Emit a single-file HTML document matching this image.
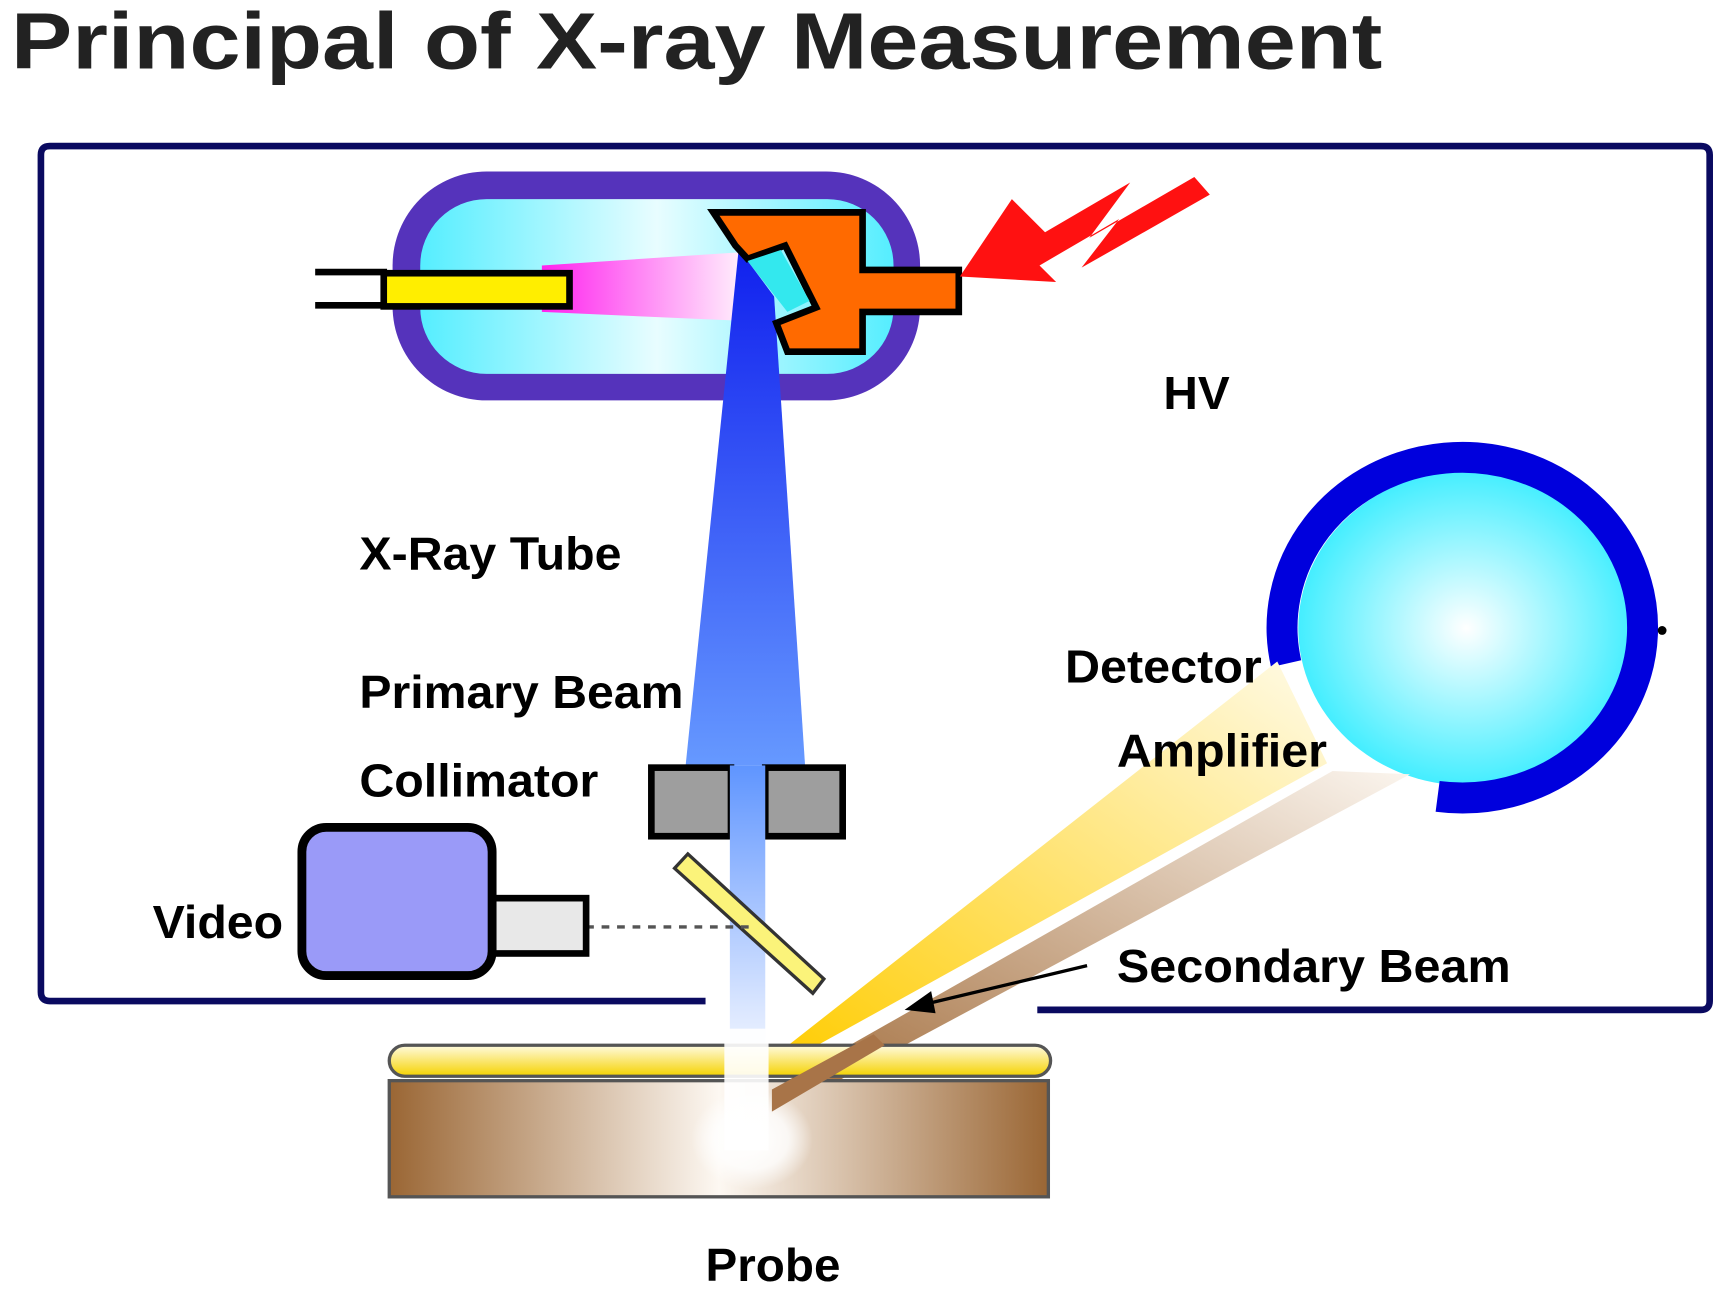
<!DOCTYPE html>
<html><head><meta charset="utf-8"><style>
html,body{margin:0;padding:0;background:#fff;}
svg{display:block}
text{font-family:"Liberation Sans",Arial,sans-serif;font-weight:bold;}
</style></head><body>
<svg width="1734" height="1303" viewBox="0 0 1568 1178" preserveAspectRatio="none" xmlns="http://www.w3.org/2000/svg">
<defs>
<linearGradient id="cyan" x1="0" y1="0" x2="1" y2="0">
<stop offset="0" stop-color="#55eeff"/><stop offset="0.5" stop-color="#e8fdff"/><stop offset="1" stop-color="#55eeff"/></linearGradient>
<linearGradient id="pink" x1="0" y1="0" x2="1" y2="0">
<stop offset="0" stop-color="#ff22ee"/><stop offset="1" stop-color="#ffeefc"/></linearGradient>
<linearGradient id="blue" x1="0" y1="0" x2="0" y2="1">
<stop offset="0" stop-color="#1020ee"/><stop offset="1" stop-color="#6699ff"/></linearGradient>
<linearGradient id="blue2" x1="0" y1="0" x2="0" y2="1">
<stop offset="0" stop-color="#5f95ff"/><stop offset="0.75" stop-color="#dde8ff"/><stop offset="1" stop-color="#fff"/></linearGradient>
<radialGradient id="det" cx="0.5" cy="0.5" r="0.5">
<stop offset="0" stop-color="#ffffff"/><stop offset="1" stop-color="#44eeff"/></radialGradient>
<linearGradient id="yb" x1="0" y1="1" x2="1" y2="0">
<stop offset="0" stop-color="#ffcc00"/><stop offset="1" stop-color="#fffbe8"/></linearGradient>
<linearGradient id="bb" x1="0" y1="1" x2="1" y2="0">
<stop offset="0" stop-color="#a06a38"/><stop offset="1" stop-color="#fbf5ee"/></linearGradient>
<linearGradient id="brown" x1="0" y1="0" x2="1" y2="0">
<stop offset="0" stop-color="#9a6634"/><stop offset="0.5" stop-color="#fdf8f2"/><stop offset="1" stop-color="#9a6634"/></linearGradient>
<linearGradient id="ypill" x1="0" y1="0" x2="0" y2="1">
<stop offset="0" stop-color="#fffbe0"/><stop offset="1" stop-color="#f5d200"/></linearGradient>
<radialGradient id="glow" cx="0.5" cy="0.5" r="0.5">
<stop offset="0" stop-color="#fff"/><stop offset="0.6" stop-color="#fff" stop-opacity="0.8"/><stop offset="1" stop-color="#fff" stop-opacity="0"/></radialGradient>
</defs>

<text x="10" y="62" font-size="72" fill="#222" textLength="1240" lengthAdjust="spacingAndGlyphs">Principal of X-ray Measurement</text>

<path d="M638 905 L45 905 Q37 905 37 897 L37 140 Q37 132 45 132 L1538 132 Q1546 132 1546 140 L1546 905 Q1546 913 1538 913 L938 913" fill="none" stroke="#0a0a60" stroke-width="6"/>

<rect x="355" y="155" width="477" height="207" rx="85" fill="#5533bb"/>
<rect x="380" y="180" width="428" height="158" rx="60" fill="url(#cyan)"/>
<line x1="285" y1="246" x2="350" y2="246" stroke="#000" stroke-width="6"/>
<line x1="285" y1="276" x2="350" y2="276" stroke="#000" stroke-width="6"/>
<polygon points="490,240 670,228 670,290 490,282" fill="url(#pink)"/>
<rect x="347" y="247" width="168" height="30" fill="#ffee00" stroke="#000" stroke-width="6"/>
<polygon points="668,225 700,268 728,692 620,692" fill="url(#blue)"/>
<polygon points="645,192 780,192 780,244 867,244 867,282 780,282 780,318 712,318 702,292 738,278 710,222 676,234 665,222" fill="#ff6a00" stroke="#000" stroke-width="6" stroke-linejoin="miter"/>
<polygon points="676,236 706,226 732,272 712,282" fill="#33e8ee"/>
<polygon points="1094,176 1080,160 985,215 1022,165 945,210 915,180 868,250 955,255 940,240 1012,198 978,242" fill="#ff1111"/>

<rect x="589" y="694" width="72" height="62" fill="#9e9e9e" stroke="#000" stroke-width="6"/>
<rect x="692" y="694" width="70" height="62" fill="#9e9e9e" stroke="#000" stroke-width="6"/>
<rect x="660" y="692" width="32" height="300" fill="url(#blue2)"/>
<polygon points="610,785 622,772 745,885 735,898" fill="#fbf37a" stroke="#333" stroke-width="3"/>
<line x1="530" y1="838" x2="680" y2="838" stroke="#555" stroke-width="3" stroke-dasharray="7,7"/>
<rect x="273" y="748" width="172" height="134" rx="22" fill="#9a9af8" stroke="#000" stroke-width="8"/>
<rect x="446" y="812" width="84" height="50" fill="#e8e8e8" stroke="#000" stroke-width="6"/>

<ellipse cx="1326" cy="568" rx="152" ry="142" fill="url(#det)"/>
<path d="M1163 600 A163 154 0 1 1 1300 720" fill="none" stroke="#0000dd" stroke-width="28"/>
<circle cx="1503" cy="570" r="4" fill="#000"/>

<polygon points="700,955 1155,598 1200,690 712,960" fill="url(#yb)"/>
<polygon points="698,985 1205,697 1275,700 706,1005" fill="url(#bb)"/>

<rect x="352" y="945" width="598" height="28" rx="14" fill="url(#ypill)" stroke="#555" stroke-width="3"/>
<rect x="352" y="977" width="596" height="105" fill="url(#brown)" stroke="#555" stroke-width="3"/>
<rect x="655" y="930" width="40" height="110" fill="#fff" opacity="0.9"/>
<ellipse cx="680" cy="1030" rx="55" ry="45" fill="url(#glow)"/>
<polygon points="698,985 790,935 800,945 698,1005" fill="#a87448"/>

<line x1="983" y1="873" x2="840" y2="907" stroke="#000" stroke-width="3"/>
<polygon points="818,913 842,896 846,916" fill="#000"/>

<g font-size="42" fill="#000">
<text x="1052" y="370" textLength="60" lengthAdjust="spacingAndGlyphs">HV</text>
<text x="325" y="515" textLength="237" lengthAdjust="spacingAndGlyphs">X-Ray Tube</text>
<text x="325" y="640" textLength="293" lengthAdjust="spacingAndGlyphs">Primary Beam</text>
<text x="325" y="720" textLength="216" lengthAdjust="spacingAndGlyphs">Collimator</text>
<text x="138" y="848" textLength="118" lengthAdjust="spacingAndGlyphs">Video</text>
<text x="963" y="617" textLength="178" lengthAdjust="spacingAndGlyphs">Detector</text>
<text x="1010" y="693" textLength="190" lengthAdjust="spacingAndGlyphs">Amplifier</text>
<text x="1010" y="888" textLength="356" lengthAdjust="spacingAndGlyphs">Secondary Beam</text>
<text x="638" y="1158" textLength="122" lengthAdjust="spacingAndGlyphs">Probe</text>
</g>
</svg>
</body></html>
